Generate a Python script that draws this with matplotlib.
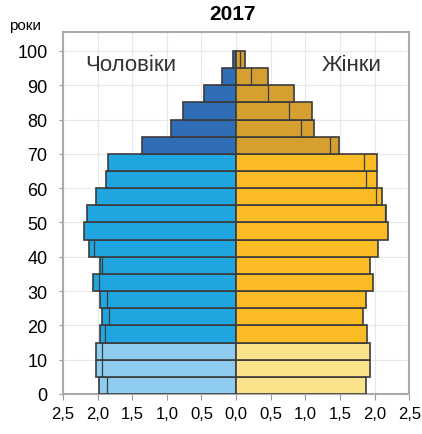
import matplotlib.pyplot as plt
import numpy as np

# age groups (lower bound of each 5-year bin), share of population, %
age_start = list(range(0, 100, 5))
male = [1.98, 2.02, 2.02, 1.97, 1.93, 1.97, 2.06, 1.97, 2.12, 2.19,
        2.15, 2.02, 1.88, 1.85, 1.36, 0.94, 0.76, 0.46, 0.21, 0.05]
female = [1.87, 1.93, 1.93, 1.89, 1.83, 1.87, 1.98, 1.93, 2.05, 2.19,
          2.17, 2.11, 2.04, 2.04, 1.48, 1.12, 1.09, 0.83, 0.46, 0.13]

x_ticks = [-2.5, -2.0, -1.5, -1.0, -0.5, 0.0, 0.5, 1.0, 1.5, 2.0, 2.5]
x_labels = ["2,5", "2,0", "1,5", "1,0", "0,5", "0,0", "0,5", "1,0", "1,5", "2,0", "2,5"]
y_ticks = list(range(0, 101, 10))


def group_colors(ages, young, mid, old):
    return [young if a < 15 else (mid if a < 70 else old) for a in ages]


def main() -> None:
    plt.rcParams["font.family"] = ["Liberation Sans Narrow", "Liberation Sans", "DejaVu Sans"]

    fig = plt.figure(figsize=(4.22, 4.35), dpi=100)
    ax = fig.add_axes([0.149, 0.092, 0.821, 0.832])

    ages = np.array(age_start)
    m = np.array(male)
    f = np.array(female)
    edge = "#3b3b3b"

    ax.barh(ages, -m, height=5, align="edge",
            color=group_colors(age_start, "#8ecdf0", "#1fa6e0", "#2f6db6"),
            edgecolor=edge, linewidth=1.2, zorder=3)
    ax.barh(ages, f, height=5, align="edge",
            color=group_colors(age_start, "#fbe38c", "#fbbb24", "#d5a030"),
            edgecolor=edge, linewidth=1.2, zorder=3)

    # thin marks showing the other sex's value inside the longer bar
    other = np.minimum(m, f)
    mask_f = f > m
    mask_m = m > f
    ax.vlines(other[mask_f], ages[mask_f], ages[mask_f] + 5, color=edge, lw=0.9, zorder=4)
    ax.vlines(-other[mask_m], ages[mask_m], ages[mask_m] + 5, color=edge, lw=0.9, zorder=4)

    ax.set_xlim(-2.5, 2.5)
    ax.set_ylim(0, 105.5)
    ax.set_xticks(x_ticks)
    ax.set_xticklabels(x_labels, fontsize=12)
    ax.set_yticks(y_ticks)
    ax.tick_params(axis="y", labelsize=13, length=3, color="#999999", pad=8)
    ax.tick_params(axis="x", length=4, color="#999999", pad=5)
    ax.grid(True, color="#e8e8e8", lw=0.8, zorder=0)
    for side in ax.spines.values():
        side.set_color("#aaaaaa")
        side.set_linewidth(1.5)

    fig.text(0.55, 0.966, "2017", ha="center", va="center",
             fontsize=15, fontweight="bold", family=["Liberation Sans", "DejaVu Sans"])
    fig.text(0.059, 0.94, "роки", ha="center", va="center", fontsize=11)
    ax.text(-1.52, 96, "Чоловіки", ha="center", va="center", fontsize=16, color="#333333")
    ax.text(1.66, 96, "Жінки", ha="center", va="center", fontsize=16, color="#333333")

    fig.savefig("out.png", dpi=100)


if __name__ == "__main__":
    main()
